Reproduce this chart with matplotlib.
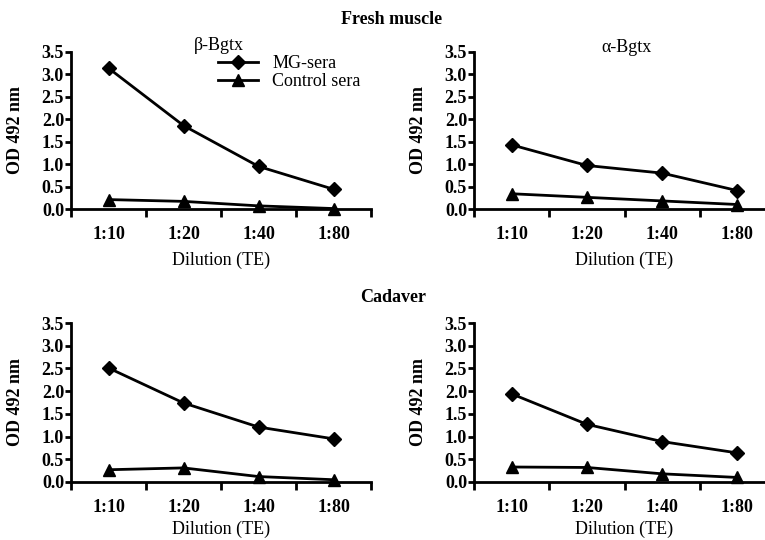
import numpy as np
import matplotlib
matplotlib.use("Agg")
import matplotlib.pyplot as plt
from matplotlib.ticker import FixedLocator, NullFormatter, FixedFormatter

plt.rcParams['font.family'] = ['Liberation Serif', 'DejaVu Serif']

dilutions = ['1:10', '1:20', '1:40', '1:80']

# OD 492 nm
fresh_beta_mg = [3.14, 1.86, 0.95, 0.44]
fresh_beta_ctrl = [0.21, 0.17, 0.07, 0.01]
fresh_alpha_mg = [1.43, 0.97, 0.80, 0.41]
fresh_alpha_ctrl = [0.34, 0.26, 0.18, 0.10]
cad_beta_mg = [2.51, 1.74, 1.21, 0.95]
cad_beta_ctrl = [0.27, 0.31, 0.12, 0.05]
cad_alpha_mg = [1.94, 1.27, 0.89, 0.64]
cad_alpha_ctrl = [0.33, 0.32, 0.18, 0.10]

W, H = 765, 540
fig = plt.figure(figsize=(W / 100, H / 100), dpi=100)

def px_axes(x0, x1, ytop, ybot):
    return fig.add_axes([x0 / W, 1 - ybot / H, (x1 - x0) / W, (ybot - ytop) / H])

def setup(ax, mg, ctrl, xlab_y):
    x = np.arange(len(dilutions))
    ax.plot(x, mg, color='black', lw=2, marker='D', ms=7.5, clip_on=False, label='MG-sera')
    ax.plot(x, ctrl, color='black', lw=2, marker='^', ms=8.5, clip_on=False, label='Control sera')
    ax.set_xlim(-0.5, len(dilutions) - 0.5)
    ax.set_ylim(0, 3.5)
    ax.set_yticks(np.arange(0, 3.51, 0.5))
    ax.set_yticklabels(['%.1f' % v for v in np.arange(0, 3.51, 0.5)], fontweight='bold', fontsize=13)
    ax.xaxis.set_major_locator(FixedLocator(np.arange(-0.5, len(dilutions), 1.0)))
    ax.xaxis.set_major_formatter(NullFormatter())
    ax.xaxis.set_minor_locator(FixedLocator(x))
    ax.xaxis.set_minor_formatter(FixedFormatter(dilutions))
    ax.tick_params(axis='x', which='minor', length=0, pad=12, labelsize=13)
    for t in ax.xaxis.get_minorticklabels():
        t.set_fontweight('bold')
    ax.tick_params(axis='x', which='major', length=6, width=2, direction='out')
    ax.tick_params(axis='y', length=4, width=2, direction='out', pad=1)
    for s in ['top', 'right']:
        ax.spines[s].set_visible(False)
    for s in ['left', 'bottom']:
        ax.spines[s].set_linewidth(2)
    ax.set_ylabel('OD 492 nm', fontweight='bold', fontsize=13)
    ax.yaxis.set_label_coords(-0.155, 0.5)
    ax.set_xlabel('Dilution (TE)', fontsize=13)
    ax.xaxis.set_label_coords(0.5, xlab_y)

ax1 = px_axes(71, 371, 52, 209)
ax2 = px_axes(474, 775, 52, 209)
ax3 = px_axes(71, 371, 323, 482)
ax4 = px_axes(474, 775, 323, 482)

setup(ax1, fresh_beta_mg, fresh_beta_ctrl, -0.272)
setup(ax2, fresh_alpha_mg, fresh_alpha_ctrl, -0.272)
setup(ax3, cad_beta_mg, cad_beta_ctrl, -0.245)
setup(ax4, cad_alpha_mg, cad_alpha_ctrl, -0.245)

ax1.legend(loc='upper left', bbox_to_anchor=(218 / W, 1 - 55 / H), bbox_transform=fig.transFigure,
           frameon=False, fontsize=13, handlelength=2.2, handletextpad=0.8,
           labelspacing=0.05, borderpad=0, borderaxespad=0)

fig.text(392 / W, 1 - 19 / H, 'Fresh muscle', ha='center', va='center', fontsize=13, fontweight='bold')
fig.text(393 / W, 1 - 297 / H, 'Cadaver', ha='center', va='center', fontsize=13, fontweight='bold')
fig.text(219 / W, 1 - 45 / H, 'β-Bgtx', ha='center', va='center', fontsize=13)
fig.text(627 / W, 1 - 47 / H, 'α-Bgtx', ha='center', va='center', fontsize=13)

fig.savefig('out.png', dpi=100)
